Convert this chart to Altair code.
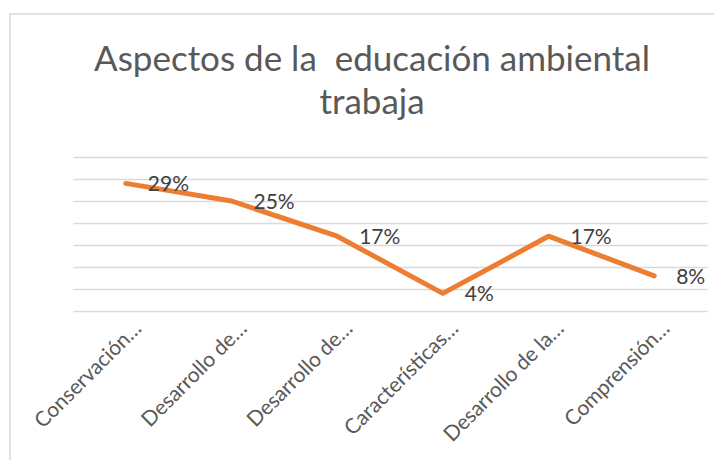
import altair as alt
import pandas as pd
import json

categories = ["Conservación…", "Desarrollo de…", "Desarrollo de…",
              "Características…", "Desarrollo de la…", "Comprensión…"]
values = [29, 25, 17, 4, 17, 8]
labels = ["29%", "25%", "17%", "4%", "17%", "8%"]
y_ticks = [0, 5, 10, 15, 20, 25, 30, 35]
title_lines = ["Aspectos de la \u00a0educación ambiental", "trabaja"]

df = pd.DataFrame({
    "idx": list(range(len(categories))),
    "cat": categories,
    "value": values,
    "label": labels,
})

FONT = "Lato"
cat_js = json.dumps(categories, ensure_ascii=False)

x_enc = alt.X(
    "idx:O",
    scale=alt.Scale(type="point", padding=0.5),
    axis=alt.Axis(
        title=None,
        labelExpr=f"{cat_js}[datum.value]",
        labelAngle=-45,
        labelAlign="right",
        labelBaseline="middle",
        labelFontSize=21,
        labelColor="#595959",
        labelFont=FONT,
        labelOffset=12,
        labelPadding=14,
        ticks=False,
        domain=False,
        grid=False,
    ),
)
y_enc = alt.Y(
    "value:Q",
    scale=alt.Scale(domain=[0, 35], nice=False),
    axis=alt.Axis(
        title=None,
        values=y_ticks,
        labels=False,
        ticks=False,
        domain=False,
        grid=True,
        gridColor="#D9D9D9",
        gridWidth=1.5,
    ),
)

base = alt.Chart(df).encode(x=x_enc, y=y_enc)

line = base.mark_line(color="#ED7D31", strokeWidth=5, strokeCap="round",
                      strokeJoin="round")

text = base.mark_text(align="left", baseline="middle", dx=22, dy=2,
                      fontSize=21, font=FONT, color="#404040").encode(
    text="label:N",
)

frame = alt.Chart(pd.DataFrame({"a": [0]})).mark_rect(
    fill=None, stroke="#D9D9D9", strokeWidth=1.5
).encode(
    x=alt.value(-63), x2=alt.value(800),
    y=alt.value(-143), y2=alt.value(420),
)

chart = alt.layer(frame, line, text).properties(
    width=634,
    height=154,
    autosize=alt.AutoSizeParams(type="none"),
    padding={"left": 65, "top": 149, "right": 7, "bottom": 149},
    title=alt.TitleParams(
        text=title_lines,
        fontSize=35,
        font=FONT,
        fontWeight="normal",
        color="#595959",
        anchor="middle",
        frame="group",
        baseline="bottom",
        dx=-18,
        offset=-143,
        lineHeight=43,
    ),
).configure_view(stroke=None)

chart.save("out.html", embed_options={"renderer": "svg", "actions": False})
